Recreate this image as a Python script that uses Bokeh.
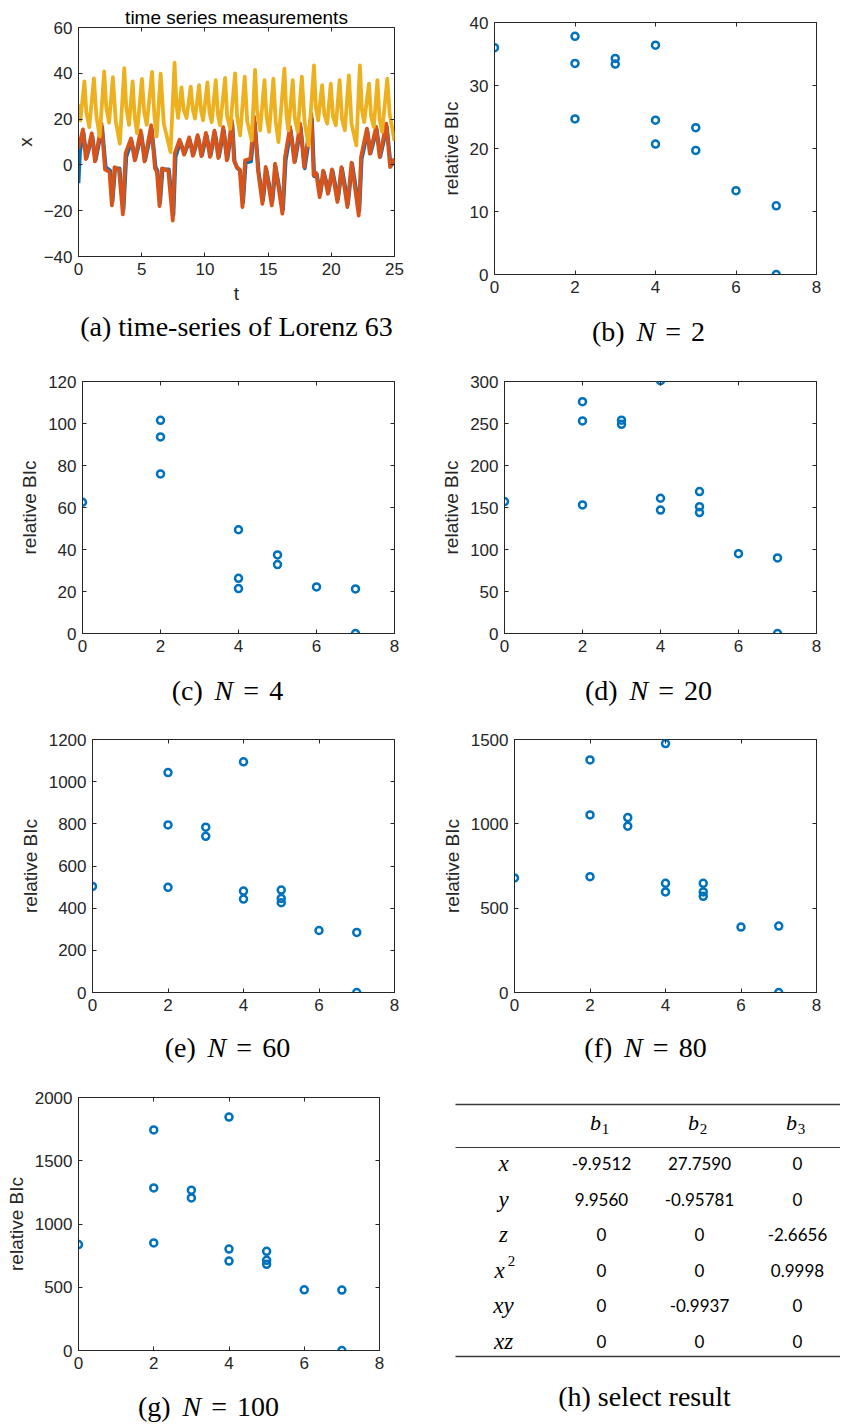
from bokeh.plotting import figure
from bokeh.models import Range1d, FixedTicker, LinearAxis
from bokeh.layouts import column, row
from bokeh.embed import file_html
from bokeh.resources import INLINE
from bokeh.core.properties import value

# ---------------- data ----------------
# (a) Lorenz 63 time series as (t, value) keypoints
z_series = [(0.0, 26.5), (0.15, 19.5), (0.47, 36.5), (0.62, 23), (0.85, 16.5), (1.22, 37.8), (1.42, 21), (1.68, 12.5),
            (2.03, 40.8), (2.2, 25), (2.42, 18.5), (2.72, 38.3), (2.95, 19), (3.27, 9.3), (3.62, 42.3), (3.78, 25),
            (4.0, 17.5), (4.28, 36.5), (4.45, 21), (4.63, 13.8), (5.02, 37.6), (5.2, 23), (5.4, 17.5), (5.82, 40.6),
            (6.0, 22), (6.18, 12.5), (6.5, 39.8), (6.75, 18), (7.28, 5.6), (7.6, 44.6), (7.75, 26), (7.88, 20.5),
            (8.15, 33.8), (8.32, 24), (8.55, 20.5), (8.88, 34.2), (9.05, 24), (9.22, 20.2), (9.54, 34.8), (9.7, 23.5),
            (9.86, 19.5), (10.2, 36.0), (10.36, 23), (10.54, 18.7), (10.86, 37.0), (11.03, 22), (11.2, 17.3),
            (11.6, 38.0), (11.76, 21), (12.0, 15.8), (12.39, 40.0), (12.55, 21), (12.79, 12.9), (13.15, 38.5),
            (13.35, 19), (13.7, 10.7), (13.97, 41.5), (14.12, 24), (14.37, 15.1), (14.71, 37.0), (14.88, 21),
            (15.08, 14.4), (15.42, 37.7), (15.6, 19), (15.82, 10.0), (16.29, 42.0), (16.45, 22), (16.6, 15.1),
            (16.95, 37.0), (17.1, 21), (17.34, 14.4), (17.67, 38.5), (17.88, 19), (18.2, 8.5), (18.63, 43.5),
            (18.78, 25), (18.96, 19.5), (19.27, 34.8), (19.45, 22), (19.68, 18.0), (19.96, 35.5), (20.14, 21),
            (20.36, 17.3), (20.66, 37.0), (20.85, 20), (21.07, 15.1), (21.39, 39.1), (21.6, 18), (21.98, 8.5),
            (22.26, 43.5), (22.42, 24), (22.6, 18.7), (22.98, 35.5), (23.15, 21), (23.36, 16.5), (23.65, 37.0),
            (23.82, 20), (24.02, 14.4), (24.43, 37.7), (24.62, 22), (25.0, 10.5)]

y_series = [(0.0, 7.0), (0.35, 15.5), (0.58, 2.5), (1.05, 13.8), (1.3, 1.5), (1.82, 18.0), (2.1, -2.0), (2.45, -3.0),
            (2.64, -17.7), (2.85, -1.0), (3.2, -2.0), (3.51, -21.6), (3.72, 5.0), (4.15, 11.5), (4.45, 2.0),
            (4.92, 15.0), (5.22, 1.5), (5.75, 17.3), (6.05, -1.5), (6.2, -3.0), (6.41, -18.0), (6.6, -1.5),
            (7.1, -2.5), (7.46, -24.3), (7.62, 5.0), (8.0, 11.0), (8.35, 4.5), (8.75, 12.0), (9.05, 4.0),
            (9.42, 13.0), (9.72, 3.8), (10.08, 14.0), (10.4, 3.5), (10.75, 15.0), (11.06, 3.0), (11.45, 16.5),
            (11.73, 2.0), (12.13, 19.5), (12.3, 2.0), (12.52, -1.0), (12.75, -2.0), (12.97, -18.4), (13.18, 2.0),
            (13.6, 2.7), (13.9, 21.0), (14.2, -2.4), (14.55, -17.0), (14.81, -0.9), (15.29, -17.7), (15.55, 0.5),
            (16.13, -21.3), (16.34, 3.4), (16.74, 16.6), (17.08, 1.2), (17.53, 18.0), (17.85, -1.0), (18.42, 22.4),
            (18.6, -4.5), (18.8, -3.5), (19.08, -14.1), (19.35, -2.5), (19.74, -12.6), (20.05, -2.0),
            (20.48, -16.2), (20.8, -1.0), (21.27, -18.4), (21.6, 1.0), (22.17, -22.1), (22.35, 3.4), (22.82, 15.8),
            (23.05, 4.9), (23.55, 16.6), (23.82, 3.4), (24.35, 18.0), (24.65, -1.0), (25.0, 2.7)]

x_series = [(0.0, -8), (0.12, 6), (0.4, 14), (0.63, 3), (1.1, 12.5), (1.35, 2), (1.87, 16.5), (2.15, -1), (2.5, -2.5),
            (2.69, -16), (2.9, -1.5), (3.25, -1.5), (3.56, -19.5), (3.78, 3.5), (4.2, 10.5), (4.5, 2.5), (4.97, 13.5),
            (5.27, 2), (5.8, 15.5), (6.1, -1), (6.25, -2.5), (6.46, -16.5), (6.65, -2), (7.15, -2), (7.51, -22),
            (7.68, 3.5), (8.05, 10), (8.4, 5), (8.8, 11), (9.1, 4.5), (9.47, 12), (9.77, 4.2), (10.13, 13), (10.45, 4),
            (10.8, 14), (11.11, 3.5), (11.5, 15), (11.78, 2.5), (12.18, 17.5), (12.35, 1.5), (12.57, -1.5),
            (12.8, -2.5), (13.02, -16.5), (13.23, 1.0), (13.65, 1.5), (13.95, 18.5), (14.25, -3), (14.6, -15.5),
            (14.86, -2), (15.34, -16), (15.6, -1), (16.18, -19.5), (16.39, 2.0), (16.79, 15), (17.13, 1.5),
            (17.58, 16.5), (17.9, -1.5), (18.47, 20), (18.65, -5), (18.85, -4), (19.13, -12.8), (19.4, -3),
            (19.79, -11.5), (20.1, -2.5), (20.53, -15), (20.85, -1.5), (21.32, -17), (21.65, 0.5), (22.22, -20),
            (22.4, 2.5), (22.87, 14.5), (23.1, 5), (23.6, 15.5), (23.87, 3.5), (24.4, 16.5), (24.7, -0.5), (25.0, 1.5)]

# (b)-(g) relative BIc versus number of terms
N_values = [2, 4, 20, 60, 80, 100]
bic_x = {
    2:   [0, 2, 2, 2, 3, 3, 4, 4, 4, 5, 5, 6, 7, 7],
    4:   [0, 2, 2, 2, 4, 4, 4, 5, 5, 6, 7, 7],
    20:  [0, 2, 2, 2, 3, 3, 4, 4, 4, 5, 5, 5, 6, 7, 7],
    60:  [0, 2, 2, 2, 3, 3, 4, 4, 4, 5, 5, 5, 6, 7, 7],
    80:  [0, 2, 2, 2, 3, 3, 4, 4, 4, 5, 5, 5, 6, 7, 7],
    100: [0, 2, 2, 2, 3, 3, 4, 4, 4, 5, 5, 5, 6, 7, 7],
}
bic_y = {
    2:   [36.0, 37.8, 33.5, 24.7, 34.3, 33.4, 36.4, 24.5, 20.7, 23.3, 19.7, 13.3, 10.9, 0],
    4:   [62.5, 101.5, 93.6, 76.0, 49.4, 26.3, 21.4, 37.4, 32.8, 22.2, 21.2, 0],
    20:  [157, 276, 253, 153, 254, 249, 301, 161, 147, 169, 151, 144, 95, 90, 0],
    60:  [503, 1043, 795, 499, 784, 741, 1094, 481, 443, 486, 446, 426, 294, 285, 0],
    80:  [679, 1379, 1053, 687, 1037, 986, 1476, 647, 596, 647, 596, 570, 388, 394, 0],
    100: [837, 1744, 1285, 850, 1267, 1206, 1845, 802, 707, 784, 713, 681, 480, 478, 0],
}
y_ranges = {2: (0, 40), 4: (0, 120), 20: (0, 300), 60: (0, 1200), 80: (0, 1500), 100: (0, 2000)}
y_ticks = {2: [0, 10, 20, 30, 40], 4: [0, 20, 40, 60, 80, 100, 120], 20: [0, 50, 100, 150, 200, 250, 300],
           60: [0, 200, 400, 600, 800, 1000, 1200], 80: [0, 500, 1000, 1500], 100: [0, 500, 1000, 1500, 2000]}
x_ticks_n = [0, 2, 4, 6, 8]
panel_tags = ["b", "c", "d", "e", "f", "g"]

# (h) selected coefficients
row_main = ["x", "y", "z", "x", "xy", "xz"]
row_sup = ["", "", "", "2", "", ""]
col_subs = ["1", "2", "3"]
b1_vals = ["-9.9512", "9.9560", "0", "0", "0", "0"]
b2_vals = ["27.7590", "-0.95781", "0", "0", "-0.9937", "0"]
b3_vals = ["0", "0", "-2.6656", "0.9998", "0", "0"]

# ---------------- style ----------------
BLUE, RED, YEL, AX = "#0072BD", "#D95319", "#EDB120", "#262626"
SANS, SERIF, TSANS = "Liberation Sans", "Liberation Serif", "Lato"
CAP = 28
COLW = 420

TW = {'(': .333, ')': .333, ' ': .25, '=': .564, 'a': .444, 'b': .5, 'c': .444, 'd': .5, 'e': .444,
      'f': .333, 'g': .5, 'h': .5}


def tw(s, size):
    return sum(TW.get(ch, .5) for ch in s) * size


def page_fig(xr, y0, w, h):
    """A blank figure whose data coordinates are page pixels (y downwards).
    xr is the page span of its frame (frames are aligned with the plot above in a column)."""
    f = figure(width=w, height=h, x_range=Range1d(*xr), y_range=Range1d(y0 + h, y0),
               x_axis_type=None, y_axis_type=None, min_border=0, outline_line_color=None,
               output_backend="svg", toolbar_location=None)
    f.grid.visible = False
    return f


def make_panel(pw, ph, page_x, page_y, frame, xr, yr, xticks, yticks, xlabel=None, ylabel=None):
    fl, ft, fw, fh = frame
    left, top = fl - page_x, ft - page_y
    right, bottom = pw - left - fw, ph - top - fh
    p = figure(width=pw, height=ph, x_range=Range1d(*xr), y_range=Range1d(*yr),
               output_backend="svg", toolbar_location=None,
               min_border_left=left, min_border_top=top, min_border_right=right, min_border_bottom=bottom)
    p.grid.visible = False
    p.outline_line_color = AX
    p.outline_line_width = 1
    for ax, ticks, lab in ((p.below[0], xticks, xlabel), (p.left[0], yticks, ylabel)):
        ax.ticker = FixedTicker(ticks=ticks)
        ax.major_tick_in = 4
        ax.major_tick_out = 0
        ax.minor_tick_line_color = None
        ax.axis_line_color = AX
        ax.major_tick_line_color = AX
        ax.major_label_text_font = SANS
        ax.major_label_text_font_size = "17px"
        ax.major_label_text_color = AX
        ax.major_label_standoff = 6
        if lab:
            ax.axis_label = lab
            ax.axis_label_text_font = SANS
            ax.axis_label_text_font_size = "19px"
            ax.axis_label_text_font_style = "normal"
            ax.axis_label_text_color = AX
            ax.axis_label_standoff = 5
    for side, ticks in (("above", xticks), ("right", yticks)):
        ax = LinearAxis(ticker=FixedTicker(ticks=ticks), major_tick_in=4, major_tick_out=0,
                        minor_tick_line_color=None, axis_line_color=None, major_tick_line_color=AX,
                        major_label_text_color=None, major_label_text_font_size="1px", major_label_standoff=0)
        p.add_layout(ax, side)
    return p


def caption_N(frame, y0, w, h, cx, cy, tag, n):
    fl, ft, fw, fh = frame
    f = page_fig((fl, fl + fw), y0, w, h)
    pieces = [(f"({tag})", "normal", tw(f"({tag})", CAP), .42 * CAP),
              ("N", "italic", .667 * CAP, .36 * CAP),
              ("=", "normal", tw("=", CAP), .36 * CAP),
              (str(n), "normal", tw(str(n), CAP), 0)]
    total = sum(wd + g for _, _, wd, g in pieces)
    x = cx - total / 2
    for txt, st, wd, g in pieces:
        f.text(x=[x], y=[cy], text=[txt], text_font=value(SERIF), text_font_size=f"{CAP}px",
               text_font_style=st, text_align="left", text_baseline="middle", text_color="black")
        x += wd + g
    return f


# ---------------- panel (a) ----------------
pa = make_panel(COLW, 360, 0, 0, (78, 27, 316, 229), (0, 25), (-40, 60),
                [0, 5, 10, 15, 20, 25], [-40, -20, 0, 20, 40, 60], xlabel="t", ylabel="x")
pa.title.text = "time series measurements"
pa.title.text_font = SANS
pa.title.text_font_size = "19px"
pa.title.text_font_style = "normal"
pa.title.text_color = "black"
pa.title.align = "center"
pa.title.standoff = 0
for series, col in ((x_series, BLUE), (y_series, RED), (z_series, YEL)):
    pa.line([s[0] for s in series], [s[1] for s in series], line_color=col, line_width=3.8,
            line_join="round")
cap_axis = LinearAxis(ticker=FixedTicker(ticks=[]), axis_line_color=None, major_tick_line_color=None,
                      minor_tick_line_color=None, major_label_text_color=None, major_label_text_font_size="1px",
                      axis_label="(a) time-series of Lorenz 63", axis_label_text_font=SERIF,
                      axis_label_text_font_size=f"{CAP}px", axis_label_text_font_style="normal",
                      axis_label_text_color="black", axis_label_standoff=4)
pa.add_layout(cap_axis, "below")
col_a = column(pa)

# ---------------- panels (b)-(g) ----------------
# plot figure (x0, y0, h), frame (left, top, w, h), caption strip height, caption centre
geoms = {
    2:   (420, 0, 312, (494, 22, 322, 252), 48, 648, 331),
    4:   (0, 360, 308, (82, 381, 312, 252), 52, 227, 690),
    20:  (420, 360, 308, (504, 381, 312, 252), 52, 648, 690),
    60:  (0, 720, 305, (92, 739, 302, 253), 55, 227, 1047),
    80:  (420, 720, 305, (514, 739, 302, 253), 55, 645, 1047),
    100: (0, 1080, 305, (78, 1097, 301, 253), 39, 208, 1406),
}
cols = {}
for tag, n in zip(panel_tags, N_values):
    px0, py0, ph, frame, ch, cx, cy = geoms[n]
    p = make_panel(COLW, ph, px0, py0, frame, (0, 8), y_ranges[n], x_ticks_n, y_ticks[n], ylabel="relative BIc")
    p.scatter(bic_x[n], bic_y[n], marker="circle", size=7, line_width=2.5, line_color=BLUE, fill_color=None)
    cap = caption_N(frame, py0 + ph, COLW, ch, cx, cy, tag, n)
    cols[n] = column(p, cap)

# ---------------- panel (h): table ----------------
th = page_fig((420, 840), 1080, COLW, 344)
th.segment(x0=[455, 455, 455], y0=[1104, 1147, 1356], x1=[840, 840, 840], y1=[1104, 1147, 1356],
           line_color="#3a3a3a", line_width=[1.6, 1.0, 1.6])
col_x = [599, 697, 795]
row_y = [1163 + 35.5 * i for i in range(len(row_main))]
th.text(x=[c - 4 for c in col_x], y=[1122] * 3, text=["b"] * 3, text_font=value(SERIF), text_font_style="italic",
        text_font_size="22px", text_align="center", text_baseline="middle", text_color="black")
th.text(x=[c + 6 for c in col_x], y=[1128] * 3, text=col_subs, text_font=value(SERIF),
        text_font_size="15px", text_align="center", text_baseline="middle", text_color="black")
th.text(x=[503 if s == "" else 499 for s in row_sup], y=row_y, text=row_main, text_font=value(SERIF),
        text_font_style="italic", text_font_size="23px", text_align="center", text_baseline="middle",
        text_color="black")
sup_idx = [i for i, s in enumerate(row_sup) if s]
th.text(x=[511] * len(sup_idx), y=[row_y[i] - 9 for i in sup_idx], text=[row_sup[i] for i in sup_idx],
        text_font=value(SERIF), text_font_size="15px", text_align="center", text_baseline="middle",
        text_color="black")
for cxv, vals in zip(col_x, (b1_vals, b2_vals, b3_vals)):
    th.text(x=[cxv + 2] * len(vals), y=row_y, text=vals, text_font=value(TSANS), text_font_size="17px",
            text_align="center", text_baseline="middle", text_color="black")
th.text(x=[644], y=[1396], text=["(h) select result"], text_font=value(SERIF), text_font_size=f"{CAP}px",
        text_align="center", text_baseline="middle", text_color="black")

layout = column(row(col_a, cols[2]), row(cols[4], cols[20]), row(cols[60], cols[80]), row(cols[100], th))
open("out.html", "w").write(file_html(layout, INLINE))
